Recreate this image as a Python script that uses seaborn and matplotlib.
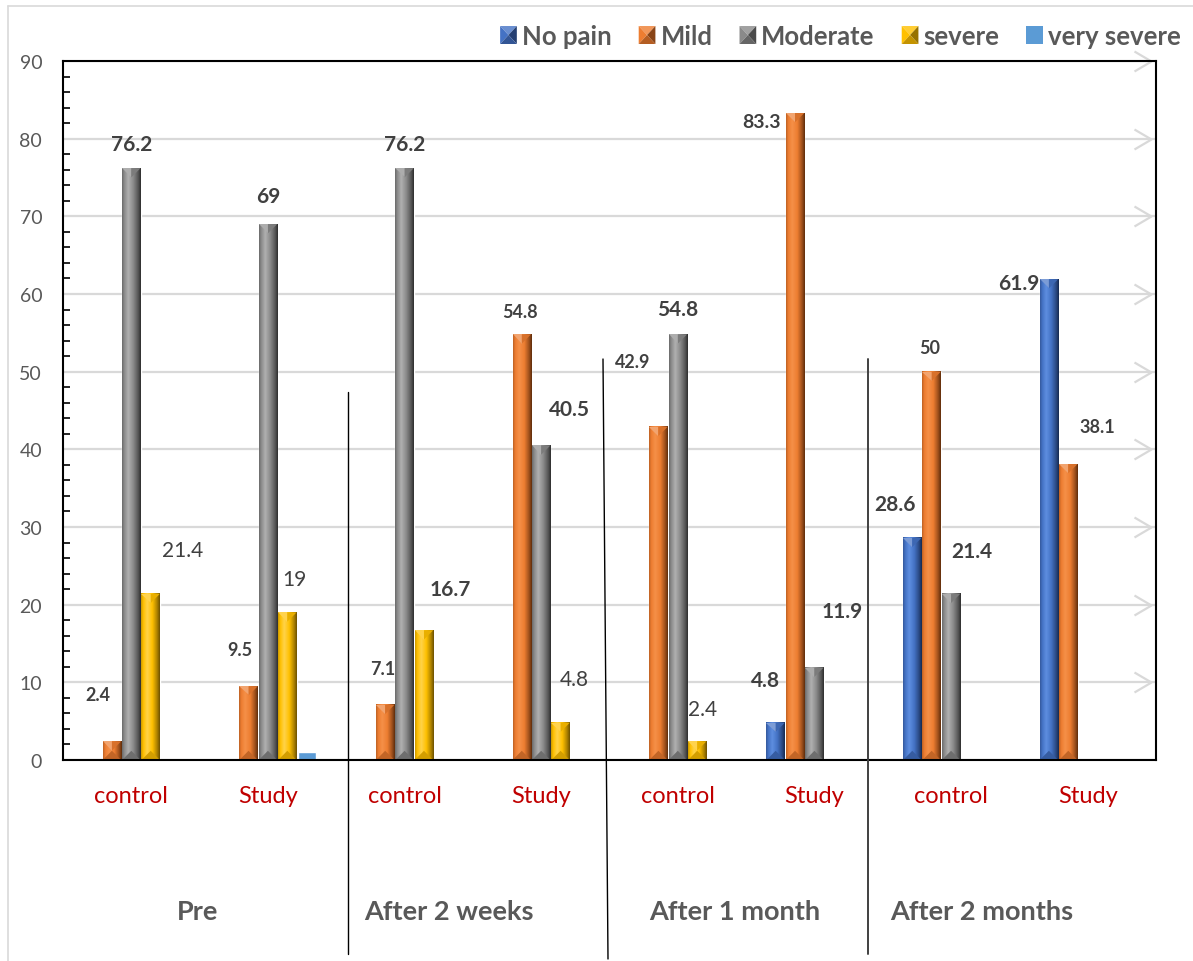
import numpy as np
import pandas as pd
import matplotlib
matplotlib.use("Agg")
import matplotlib.pyplot as plt
import seaborn as sns
from matplotlib.colors import LinearSegmentedColormap, to_rgb
from matplotlib.patches import Polygon, Patch
from matplotlib.lines import Line2D
from matplotlib.path import Path
from matplotlib.ticker import MultipleLocator
from matplotlib.legend_handler import HandlerBase
from matplotlib.transforms import blended_transform_factory

# ---------------- data ----------------
periods = ["Pre", "After 2 weeks", "After 1 month", "After 2 months"]
groups = ["control", "Study"]
pain_levels = ["No pain", "Mild", "Moderate", "severe", "very severe"]

no_pain     = [0, 0, 0, 0, 0, 4.8, 28.6, 61.9]
mild        = [2.4, 9.5, 7.1, 54.8, 42.9, 83.3, 50, 38.1]
moderate    = [76.2, 69, 76.2, 40.5, 54.8, 11.9, 21.4, 0]
severe      = [21.4, 19, 16.7, 4.8, 2.4, 0, 0, 0]
very_severe = [0, 1.0, 0, 0, 0, 0, 0, 0]

y_ticks = [0, 10, 20, 30, 40, 50, 60, 70, 80, 90]

# ---------------- styling ----------------
W_PX, H_PX = 1193, 962
AX_L, AX_R, AX_T, AX_B = 63, 1156, 62, 761

base_colors = {"No pain": "#4472C4", "Mild": "#ED7D31", "Moderate": "#8A8A8A",
               "severe": "#FFC000", "very severe": "#5B9BD5"}
light_colors = {"No pain": "#5E8EE0", "Mild": "#F59048", "Moderate": "#B0B0B0",
                "severe": "#FFD34A", "very severe": "#5B9BD5"}
dark_colors = {"No pain": "#16294F", "Mild": "#5E2C0B", "Moderate": "#2E2E2E",
               "severe": "#6B5000", "very severe": "#5B9BD5"}

TEXT_GRAY = "#595959"
LABEL_GRAY = "#404040"

# value-label placement (pixel offsets from bar top: dx right, dy up) and style
label_style = {
    "S": dict(fontsize=13, fontweight="bold"),
    "M": dict(fontsize=14, fontweight="bold"),
    "L": dict(fontsize=15, fontweight="bold"),
    "N": dict(fontsize=15, fontweight="normal"),
}
label_place = {
    (0, "Mild"): (-14, 47, "S"), (0, "Moderate"): (0, 24, "L"), (0, "severe"): (32, 44, "N"),
    (1, "Mild"): (-9, 37, "S"), (1, "Moderate"): (0, 28, "L"), (1, "severe"): (7, 33, "N"),
    (2, "Mild"): (-2, 36, "S"), (2, "Moderate"): (0, 24, "L"), (2, "severe"): (26, 41, "L"),
    (3, "Mild"): (-2, 23, "S"), (3, "Moderate"): (28, 36, "L"), (3, "severe"): (14, 44, "N"),
    (4, "Mild"): (-26, 65, "S"), (4, "Moderate"): (0, 25, "L"), (4, "severe"): (5, 32, "N"),
    (5, "No pain"): (-10, 43, "L"), (5, "Mild"): (-34, -8, "M"), (5, "Moderate"): (28, 57, "L"),
    (6, "No pain"): (-17, 34, "L"), (6, "Mild"): (-2, 24, "S"), (6, "Moderate"): (21, 43, "L"),
    (7, "No pain"): (-30, -4, "L"), (7, "Mild"): (29, 38, "S"),
}

sns.set_style("white")
plt.rcParams["font.family"] = ["Lato", "DejaVu Sans"]

# ---------------- long-form table ----------------
slots = [f"{p} | {g}" for p in periods for g in groups]
series = {"No pain": no_pain, "Mild": mild, "Moderate": moderate,
          "severe": severe, "very severe": very_severe}
rows = []
for lvl in pain_levels:
    for s, v in zip(slots, series[lvl]):
        rows.append({"slot": s, "level": lvl, "value": v})
df = pd.DataFrame(rows)

fig = plt.figure(figsize=(W_PX / 100, H_PX / 100), dpi=100)
ax = fig.add_axes([AX_L / W_PX, 1 - AX_B / H_PX,
                   (AX_R - AX_L) / W_PX, (AX_B - AX_T) / H_PX])

sns.barplot(data=df, x="slot", y="value", hue="level", order=slots,
            hue_order=pain_levels, palette=base_colors, saturation=1,
            width=0.71, gap=0.05, errorbar=None, legend=False, ax=ax, zorder=2)

ax.set_xlim(-0.5, 7.5)
ax.set_ylim(0, 90)

px_x = (AX_R - AX_L) / 8.0
px_y = (AX_B - AX_T) / 90.0


def mix(c1, c2, t):
    a, b = np.array(to_rgb(c1)), np.array(to_rgb(c2))
    return tuple((1 - t) * a + t * b)


# ---------------- bevelled bars ----------------
grad = np.linspace(0, 1, 128)[None, :]
for j, cont in enumerate(ax.containers):
    lvl = pain_levels[j]
    base, light, dark = base_colors[lvl], light_colors[lvl], dark_colors[lvl]
    cmap = LinearSegmentedColormap.from_list(
        lvl, [(0.0, mix(base, dark, 0.35)), (0.12, base), (0.33, light),
              (0.6, base), (0.85, mix(base, dark, 0.55)), (1.0, dark)])
    for bar in cont:
        h = bar.get_height()
        if not np.isfinite(h) or h <= 0:
            continue
        x0, w = bar.get_x(), bar.get_width()
        xc = x0 + w / 2
        i = int(round(xc))
        if lvl != "very severe":
            ax.imshow(grad, extent=(x0, x0 + w, 0, h), aspect="auto", cmap=cmap,
                      interpolation="bilinear", zorder=2.1)
            dh = min((w * px_x / 2) / px_y, h / 2)
            ax.add_patch(Polygon([(x0, h), (xc, h), (xc, h - dh)], closed=True,
                                 facecolor=mix(base, "white", 0.3), edgecolor="none", zorder=2.2))
            ax.add_patch(Polygon([(xc, h), (x0 + w, h), (xc, h - dh)], closed=True,
                                 facecolor=mix(base, dark, 0.15), edgecolor="none", zorder=2.2))
            ax.add_patch(Polygon([(x0, 0), (x0 + w, 0), (xc, dh)], closed=True,
                                 facecolor=mix(base, dark, 0.3), edgecolor="none", zorder=2.2))
        key = (i, lvl)
        if key in label_place:
            dx, dy, st = label_place[key]
            ax.annotate(f"{h:g}", xy=(xc, h), xytext=(dx, dy), textcoords="offset pixels",
                        ha="center", va="center", color=LABEL_GRAY, zorder=5,
                        annotation_clip=False, **label_style[st])

ax.set_xlim(-0.5, 7.5)
ax.set_ylim(0, 90)

# ---------------- gridlines with chevron ends ----------------
ax.set_axisbelow(True)
ax.yaxis.grid(True, color="#D9D9D9", lw=1.6)
ax.xaxis.grid(False)
chevron = Path([(-0.85, 0.5), (0, 0), (-0.85, -0.5)],
               [Path.MOVETO, Path.LINETO, Path.LINETO])
x_tip = 7.5 - 5 / px_x
ax.plot([x_tip] * (len(y_ticks) - 1), y_ticks[1:], ls="none", marker=chevron,
        ms=24.5, mfc="none", mec="#D9D9D9", mew=1.6, clip_on=False, zorder=1)

# ---------------- axes ----------------
ax.yaxis.set_major_locator(MultipleLocator(10))
ax.yaxis.set_minor_locator(MultipleLocator(2))
ax.tick_params(axis="y", which="major", direction="in", length=0, pad=15,
               labelsize=14, labelcolor=TEXT_GRAY, left=True)
ax.tick_params(axis="y", which="minor", direction="in", length=5, width=1.2,
               color="black", left=True)
ax.set_xticks(range(len(slots)))
ax.set_xticklabels(groups * len(periods))
ax.tick_params(axis="x", length=0, pad=18, labelsize=17, labelcolor="#C00000")
ax.set_xlabel("")
ax.set_ylabel("")
for s in ax.spines.values():
    s.set_visible(True)
    s.set_color("black")
    s.set_linewidth(1.5)
    s.set_zorder(4)

# period titles below the category labels
period_shift_px = [-2, -24, -11, -38]
tr = blended_transform_factory(ax.transData, fig.transFigure)
for k, (name, sh) in enumerate(zip(periods, period_shift_px)):
    ax.text(2 * k + 0.5 + sh / px_x, 1 - 920 / H_PX, name, transform=tr,
            ha="center", va="baseline", fontsize=19.5, fontweight="bold",
            color=TEXT_GRAY)

# divider strokes between periods
for (x1, y1, x2, y2, c, lw) in [(348, 393, 348, 955, "black", 1.0),
                                 (603, 360, 608, 960, "black", 1.0),
                                 (868, 360, 868, 955, "#404040", 1.4)]:
    fig.add_artist(Line2D([x1 / W_PX, x2 / W_PX], [1 - y1 / H_PX, 1 - y2 / H_PX],
                          transform=fig.transFigure, color=c, lw=lw))

# light outer frame
fig.add_artist(Line2D([8 / W_PX, 8 / W_PX], [0, 1 - 7 / H_PX],
                      transform=fig.transFigure, color="#D9D9D9", lw=1.2))
fig.add_artist(Line2D([8 / W_PX, 1], [1 - 7 / H_PX, 1 - 7 / H_PX],
                      transform=fig.transFigure, color="#D9D9D9", lw=1.2))


# ---------------- legend with bevelled keys ----------------
class BevelKey(HandlerBase):
    def create_artists(self, legend, orig_handle, xdescent, ydescent,
                       width, height, fontsize, trans):
        lvl = orig_handle.get_label()
        base, dark = base_colors[lvl], dark_colors[lvl]
        x0, y0 = -xdescent, -ydescent
        x1, y1 = x0 + width, y0 + height
        cx, cy = (x0 + x1) / 2, (y0 + y1) / 2
        if lvl == "very severe":
            parts = [([(x0, y0), (x1, y0), (x1, y1), (x0, y1)], base)]
        else:
            parts = [
                ([(x0, y1), (x1, y1), (cx, cy)], mix(base, "white", 0.2)),
                ([(x0, y0), (x0, y1), (cx, cy)], base),
                ([(x1, y0), (x1, y1), (cx, cy)], mix(base, dark, 0.7)),
                ([(x0, y0), (x1, y0), (cx, cy)], mix(base, dark, 0.4)),
            ]
        arts = []
        for pts, col in parts:
            p = Polygon(pts, closed=True, facecolor=col, edgecolor="none")
            p.set_transform(trans)
            arts.append(p)
        return arts


handles = [Patch(facecolor=base_colors[l], label=l) for l in pain_levels]
fig.legend(handles=handles, loc="center right",
           bbox_to_anchor=(1181 / W_PX, 1 - 37 / H_PX), ncol=5, frameon=False,
           prop={"size": 18.5, "weight": "bold"}, labelcolor=TEXT_GRAY,
           handlelength=0.65, handleheight=0.7, handletextpad=0.2,
           columnspacing=1.05, borderaxespad=0, borderpad=0,
           handler_map={Patch: BevelKey()})

fig.savefig("out.png", dpi=100)
